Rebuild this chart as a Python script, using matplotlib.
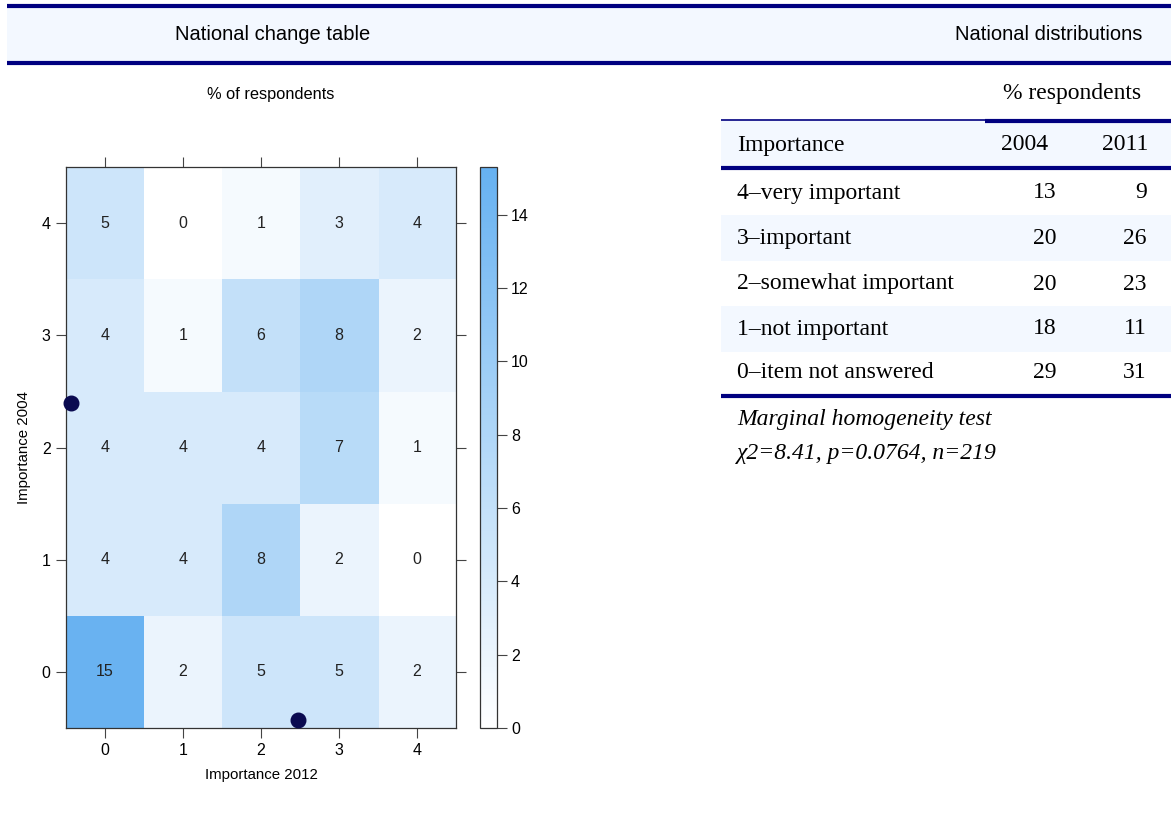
import matplotlib
matplotlib.use("Agg")
import matplotlib.pyplot as plt
import numpy as np
from matplotlib.colors import LinearSegmentedColormap
from matplotlib.patches import Rectangle
from matplotlib.lines import Line2D

# ---------------- data ----------------
levels = [0, 1, 2, 3, 4]
# rows: Importance 2004 (0..4), columns: Importance 2012 (0..4)
row_2004_0 = [15, 2, 5, 5, 2]
row_2004_1 = [4, 4, 8, 2, 0]
row_2004_2 = [4, 4, 4, 7, 1]
row_2004_3 = [4, 1, 6, 8, 2]
row_2004_4 = [5, 0, 1, 3, 4]
cbar_ticks = [0, 2, 4, 6, 8, 10, 12, 14]
dots_x = [-0.44, 2.47]
dots_y = [2.40, -0.43]

table_labels = ["4\u2013very important", "3\u2013important", "2\u2013somewhat important",
                "1\u2013not important", "0\u2013item not answered"]
pct_2004 = [13, 20, 20, 18, 29]
pct_2011 = [9, 26, 23, 11, 31]

W, H = 1171, 816
fig = plt.figure(figsize=(W / 100, H / 100), dpi=100)
fig.patch.set_facecolor("white")

NAVY = "#000080"
BAND = "#f3f8ff"
SANS = ["Liberation Sans", "DejaVu Sans"]
SERIF = ["Liberation Serif", "DejaVu Serif"]


def fx(x):
    return x / W


def fy(y):
    return 1 - y / H


def rect(x0, y0, x1, y1, color):
    fig.add_artist(Rectangle((fx(x0), fy(y1)), fx(x1) - fx(x0), fy(y0) - fy(y1),
                             transform=fig.transFigure, facecolor=color,
                             edgecolor="none", zorder=0))


def hline(x0, x1, y, lw, color=NAVY):
    fig.add_artist(Line2D([fx(x0), fx(x1)], [fy(y), fy(y)], transform=fig.transFigure,
                          color=color, lw=lw, solid_capstyle="butt", zorder=2))


# ---------------- top header band ----------------
rect(7, 6, W, 63, BAND)
hline(7, W, 6, 3.0)
hline(7, W, 63, 3.0)
fig.text(fx(273), fy(34), "National change table", ha="center", va="center",
         fontsize=14.5, family=SANS)
fig.text(fx(1049), fy(34), "National distributions", ha="center", va="center",
         fontsize=14.5, family=SANS)
fig.text(fx(271), fy(95), "% of respondents", ha="center", va="center",
         fontsize=11.8, family=SANS)

# ---------------- heatmap ----------------
mat = np.array([row_2004_0, row_2004_1, row_2004_2, row_2004_3, row_2004_4], dtype=float)
cmap = LinearSegmentedColormap.from_list("wb", ["#ffffff", "#66b1f1"])
ax = fig.add_axes([fx(66), fy(728), fx(456) - fx(66), fy(167) - fy(728)])
im = ax.imshow(mat, origin="lower", cmap=cmap, vmin=0, vmax=15.3,
               extent=(-0.5, 4.5, -0.5, 4.5), aspect="auto", interpolation="nearest")
for i in range(5):
    for j in range(5):
        ax.text(levels[j], levels[i], f"{int(mat[i, j])}", ha="center", va="center",
                fontsize=11.5, family=SANS, color="#222222")
ax.scatter(dots_x, dots_y, s=110, color="#0a0a50", zorder=5, clip_on=False)
ax.set_xlim(-0.5, 4.5)
ax.set_ylim(-0.5, 4.5)
ax.set_xticks(levels)
ax.set_yticks(levels)
ax.set_xticklabels([str(v) for v in levels], family=SANS, fontsize=11.5)
ax.set_yticklabels([str(v) for v in levels], family=SANS, fontsize=11.5)
ax.tick_params(axis="both", direction="out", length=7, width=0.8, color="#444444",
               top=True, right=True, labeltop=False, labelright=False, pad=4)
for sp in ax.spines.values():
    sp.set_linewidth(0.9)
    sp.set_color("#333333")
ax.set_xlabel("Importance 2012", family=SANS, fontsize=10.8, labelpad=7)
ax.set_ylabel("Importance 2004", family=SANS, fontsize=10.8, labelpad=8)

# ---------------- colorbar ----------------
cax = fig.add_axes([fx(480), fy(728), fx(497) - fx(480), fy(167) - fy(728)])
cb = fig.colorbar(im, cax=cax)
cb.set_ticks(cbar_ticks)
cb.ax.tick_params(direction="out", length=7, width=0.8, color="#444444", labelsize=11.5, pad=3)
for lab in cb.ax.get_yticklabels():
    lab.set_family(SANS)
cb.outline.set_linewidth(0.9)
cb.outline.set_edgecolor("#333333")

# ---------------- right table ----------------
fs = 17
fig.text(fx(1072), fy(93), "% respondents", ha="center", va="center",
         fontsize=fs, family=SERIF)
hline(721, 985, 120, 1.2)
hline(985, W, 121, 3.0)
rect(721, 121, W, 168, BAND)
hline(721, W, 168, 3.0)
fig.text(fx(737), fy(145), "Importance", ha="left", va="center", fontsize=fs, family=SERIF)
fig.text(fx(1048), fy(145), "2004", ha="right", va="center", fontsize=fs, family=SERIF)
fig.text(fx(1148), fy(145), "2011", ha="right", va="center", fontsize=fs, family=SERIF)

row_y = [193, 238, 284, 329, 373]
row_h = 45.5
for k, (lab, a, b) in enumerate(zip(table_labels, pct_2004, pct_2011)):
    yc = row_y[k]
    if k % 2 == 1:
        rect(721, yc - row_h / 2, W, yc + row_h / 2, BAND)
    fig.text(fx(737), fy(yc), lab, ha="left", va="center", fontsize=fs, family=SERIF)
    fig.text(fx(1057), fy(yc), str(a), ha="right", va="center", fontsize=fs, family=SERIF)
    fig.text(fx(1147), fy(yc), str(b), ha="right", va="center", fontsize=fs, family=SERIF)
hline(721, W, 396, 3.0)

fig.text(fx(737), fy(420), "Marginal homogeneity test", ha="left", va="center",
         fontsize=fs, family=SERIF, style="italic")
fig.text(fx(737), fy(453), "\u03c72=8.41, p=0.0764, n=219", ha="left", va="center",
         fontsize=fs, family=SERIF, style="italic")

fig.savefig("out.png", dpi=100, facecolor="white")
